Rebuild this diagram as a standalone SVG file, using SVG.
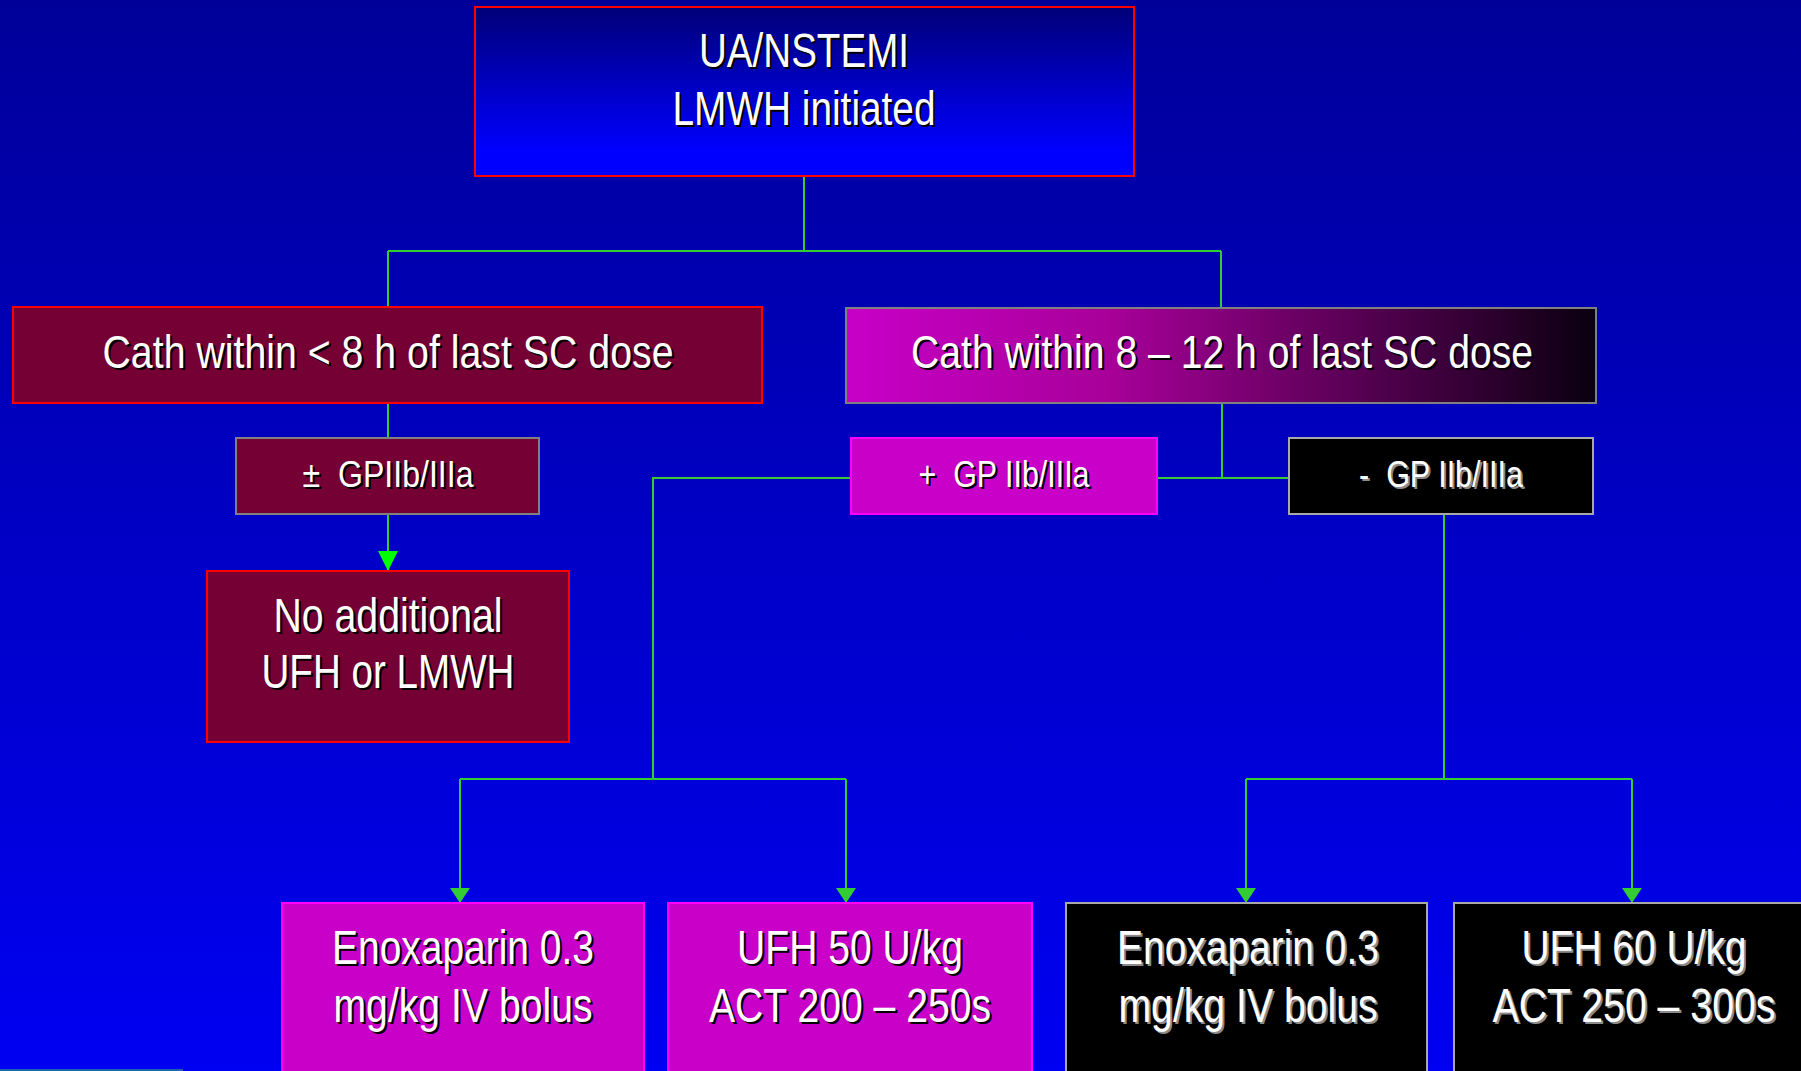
<svg xmlns="http://www.w3.org/2000/svg" width="1801" height="1071" viewBox="0 0 1801 1071">
<defs>
<linearGradient id="bg" x1="0" y1="0" x2="0" y2="1">
<stop offset="0" stop-color="#000099"/>
<stop offset="1" stop-color="#0000f2"/>
</linearGradient>
<linearGradient id="topg" x1="0" y1="0" x2="0" y2="1">
<stop offset="0" stop-color="#000078"/>
<stop offset="0.85" stop-color="#0000ff"/>
<stop offset="1" stop-color="#0000ff"/>
</linearGradient>
<linearGradient id="mg" x1="0" y1="0" x2="1" y2="0">
<stop offset="0" stop-color="#c800c8"/>
<stop offset="0.35" stop-color="#a80099"/>
<stop offset="1" stop-color="#0a0010"/>
</linearGradient>
<marker id="ah" markerUnits="userSpaceOnUse" markerWidth="15" markerHeight="20" refX="15" refY="10" orient="auto" viewBox="0 0 15 20">
<path d="M0,0 L15,10 L0,20 Z" fill="#33cc33"/>
</marker>
<marker id="ah2" markerUnits="userSpaceOnUse" markerWidth="20" markerHeight="20" refX="20" refY="10" orient="auto" viewBox="0 0 20 20">
<path d="M0,0 L20,10 L0,20 Z" fill="#00ff00"/>
</marker>
<style>
.t{font-family:"Liberation Sans",Arial,sans-serif;fill:#ffffff;text-anchor:middle}
.s{font-family:"Liberation Sans",Arial,sans-serif;fill:#000000;text-anchor:middle}
.sg{font-family:"Liberation Sans",Arial,sans-serif;fill:#8a8a8a;text-anchor:middle}
.big{font-size:48px}
.mid{font-size:46px}
.sm{font-size:36px}
.ln{fill:none;stroke:#33cc33;stroke-width:2}
.maroon{fill:#750033}
.mag{fill:#c800c8;stroke:#ff00ff;stroke-width:2}
.blk{fill:#000000;stroke:#a8a8a8;stroke-width:2}
</style>
</defs>
<rect x="0" y="0" width="1801" height="1071" fill="url(#bg)"/>
<rect x="0" y="1069" width="183" height="2" fill="#1f64b4"/>

<g id="connectors">
<path class="ln" d="M804,176 V251 M388,251 H1221 M388,251 V307 M1221,251 V308"/>
<path class="ln" d="M388,403 V438"/>
<path d="M388,514 V571" fill="none" stroke="#33cc33" stroke-width="2" marker-end="url(#ah2)"/>
<path class="ln" d="M1222,403 V478 M1157,478 H1289 M851,478 H653 V779 M460,779 H846"/>
<path class="ln" d="M460,779 V903" marker-end="url(#ah)"/>
<path class="ln" d="M846,779 V903" marker-end="url(#ah)"/>
<path class="ln" d="M1444,514 V779 M1246,779 H1632"/>
<path class="ln" d="M1246,779 V903" marker-end="url(#ah)"/>
<path class="ln" d="M1632,779 V903" marker-end="url(#ah)"/>
</g>

<g id="n-top">
<rect x="475" y="7" width="659" height="169" fill="url(#topg)" stroke="#ff0000" stroke-width="2"/>
<text class="s big" x="806" y="69" textLength="210" lengthAdjust="spacingAndGlyphs">UA/NSTEMI</text>
<text class="t big" x="804" y="67" textLength="210" lengthAdjust="spacingAndGlyphs">UA/NSTEMI</text>
<text class="s big" x="806" y="127" textLength="263" lengthAdjust="spacingAndGlyphs">LMWH initiated</text>
<text class="t big" x="804" y="125" textLength="263" lengthAdjust="spacingAndGlyphs">LMWH initiated</text>
</g>

<g id="n-cath8">
<rect x="13" y="307" width="749" height="96" class="maroon" stroke="#ff0000" stroke-width="2"/>
<text class="s mid" x="390" y="370" textLength="571" lengthAdjust="spacingAndGlyphs">Cath within &lt; 8 h of last SC dose</text>
<text class="t mid" x="388" y="368" textLength="571" lengthAdjust="spacingAndGlyphs">Cath within &lt; 8 h of last SC dose</text>
</g>

<g id="n-cath812">
<rect x="846" y="308" width="750" height="95" fill="url(#mg)" stroke="#808080" stroke-width="2"/>
<text class="s mid" x="1224" y="370" textLength="622" lengthAdjust="spacingAndGlyphs">Cath within 8 – 12 h of last SC dose</text>
<text class="t mid" x="1222" y="368" textLength="622" lengthAdjust="spacingAndGlyphs">Cath within 8 – 12 h of last SC dose</text>
</g>

<g id="n-pm">
<rect x="236" y="438" width="303" height="76" class="maroon" stroke="#808080" stroke-width="2"/>
<text class="s sm" x="390" y="489" xml:space="preserve" textLength="171" lengthAdjust="spacingAndGlyphs">±  GPIIb/IIIa</text>
<text class="t sm" x="388" y="487" xml:space="preserve" textLength="171" lengthAdjust="spacingAndGlyphs">±  GPIIb/IIIa</text>
</g>

<g id="n-plus">
<rect x="851" y="438" width="306" height="76" class="mag"/>
<text class="s sm" x="1006" y="489" xml:space="preserve" textLength="171" lengthAdjust="spacingAndGlyphs">+  GP IIb/IIIa</text>
<text class="t sm" x="1004" y="487" xml:space="preserve" textLength="171" lengthAdjust="spacingAndGlyphs">+  GP IIb/IIIa</text>
</g>

<g id="n-minus">
<rect x="1289" y="438" width="304" height="76" class="blk"/>
<text class="sg sm" x="1443" y="489" xml:space="preserve" textLength="164" lengthAdjust="spacingAndGlyphs">-  GP IIb/IIIa</text>
<text class="t sm" x="1441" y="487" xml:space="preserve" textLength="164" lengthAdjust="spacingAndGlyphs">-  GP IIb/IIIa</text>
</g>

<g id="n-noadd">
<rect x="207" y="571" width="362" height="171" class="maroon" stroke="#ff0000" stroke-width="2"/>
<text class="s big" x="390" y="634" textLength="229" lengthAdjust="spacingAndGlyphs">No additional</text>
<text class="t big" x="388" y="632" textLength="229" lengthAdjust="spacingAndGlyphs">No additional</text>
<text class="s big" x="390" y="690" textLength="253" lengthAdjust="spacingAndGlyphs">UFH or LMWH</text>
<text class="t big" x="388" y="688" textLength="253" lengthAdjust="spacingAndGlyphs">UFH or LMWH</text>
</g>

<g id="n-enox1">
<rect x="282" y="903" width="362" height="180" class="mag"/>
<text class="s big" x="465" y="966" textLength="262" lengthAdjust="spacingAndGlyphs">Enoxaparin 0.3</text>
<text class="t big" x="463" y="964" textLength="262" lengthAdjust="spacingAndGlyphs">Enoxaparin 0.3</text>
<text class="s big" x="465" y="1024" textLength="259" lengthAdjust="spacingAndGlyphs">mg/kg IV bolus</text>
<text class="t big" x="463" y="1022" textLength="259" lengthAdjust="spacingAndGlyphs">mg/kg IV bolus</text>
</g>

<g id="n-ufh50">
<rect x="668" y="903" width="364" height="180" class="mag"/>
<text class="s big" x="852" y="966" textLength="226" lengthAdjust="spacingAndGlyphs">UFH 50 U/kg</text>
<text class="t big" x="850" y="964" textLength="226" lengthAdjust="spacingAndGlyphs">UFH 50 U/kg</text>
<text class="s big" x="852" y="1024" textLength="282" lengthAdjust="spacingAndGlyphs">ACT 200 – 250s</text>
<text class="t big" x="850" y="1022" textLength="282" lengthAdjust="spacingAndGlyphs">ACT 200 – 250s</text>
</g>

<g id="n-enox2">
<rect x="1066" y="903" width="361" height="180" class="blk"/>
<text class="sg big" x="1250" y="966" textLength="262" lengthAdjust="spacingAndGlyphs">Enoxaparin 0.3</text>
<text class="t big" x="1248" y="964" textLength="262" lengthAdjust="spacingAndGlyphs">Enoxaparin 0.3</text>
<text class="sg big" x="1250" y="1024" textLength="259" lengthAdjust="spacingAndGlyphs">mg/kg IV bolus</text>
<text class="t big" x="1248" y="1022" textLength="259" lengthAdjust="spacingAndGlyphs">mg/kg IV bolus</text>
</g>

<g id="n-ufh60">
<rect x="1454" y="903" width="360" height="180" class="blk"/>
<text class="sg big" x="1636" y="966" textLength="225" lengthAdjust="spacingAndGlyphs">UFH 60 U/kg</text>
<text class="t big" x="1634" y="964" textLength="225" lengthAdjust="spacingAndGlyphs">UFH 60 U/kg</text>
<text class="sg big" x="1636" y="1024" textLength="283" lengthAdjust="spacingAndGlyphs">ACT 250 – 300s</text>
<text class="t big" x="1634" y="1022" textLength="283" lengthAdjust="spacingAndGlyphs">ACT 250 – 300s</text>
</g>
</svg>
